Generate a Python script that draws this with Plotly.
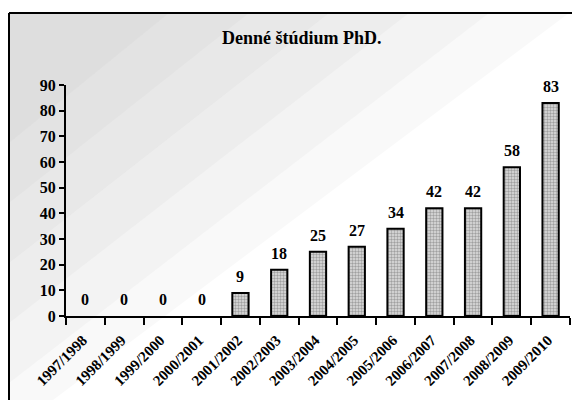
import plotly.graph_objects as go

categories = ["1997/1998", "1998/1999", "1999/2000", "2000/2001", "2001/2002", "2002/2003",
              "2003/2004", "2004/2005", "2005/2006", "2006/2007", "2007/2008", "2008/2009", "2009/2010"]
values = [0, 0, 0, 0, 9, 18, 25, 27, 34, 42, 42, 58, 83]
y_ticks = [0, 10, 20, 30, 40, 50, 60, 70, 80, 90]
title_text = "Denné štúdium PhD."

W, H = 572, 400
L, R, T, B = 66, 2, 85, 84
PW, PH = W - L - R, H - T - B

def px(x):
    return (x - L) / PW

def py(y):
    return (H - B - y) / PH

FONT = "Liberation Serif, Times New Roman, serif"

fig = go.Figure()
fig.add_trace(go.Bar(
    x=categories, y=values,
    width=0.42,
    cliponaxis=False,
    hoverinfo="skip",
    marker=dict(color="#cfcfcf",
                line=dict(color="black", width=[2 if v > 0 else 0 for v in values]),
                pattern=dict(shape=".", fgcolor="#606060", bgcolor="#e0e0e0", size=3, solidity=0.5)),
))

annotations = [dict(text=f"<b>{title_text}</b>", xref="paper", yref="paper",
                    x=px(302), y=py(38), xanchor="center", yanchor="middle", showarrow=False,
                    font=dict(family=FONT, size=18, color="black"))]
for c, v in zip(categories, values):
    annotations.append(dict(x=c, y=v, xref="x", yref="y", text=f"<b>{v}</b>", showarrow=False,
                            yanchor="bottom", yshift=6,
                            font=dict(family=FONT, size=16, color="black")))

shapes = []
# dithered grey diagonal background approximated with layered translucent triangles
layers = [(560, 420), (480, 370), (400, 310), (320, 250), (240, 190), (160, 130)]
for wt, hl in layers:
    shapes.append(dict(type="path", xref="paper", yref="paper", layer="below",
                       path=f"M {px(9)} {py(13)} L {px(9 + wt)} {py(13)} L {px(9)} {py(13 + hl)} Z",
                       fillcolor="#a0a0a0", opacity=0.06, line=dict(width=0)))
# frame lines
shapes.append(dict(type="line", xref="paper", yref="paper", x0=px(9), x1=px(572), y0=py(13), y1=py(13),
                   line=dict(color="black", width=2)))
shapes.append(dict(type="line", xref="paper", yref="paper", x0=px(9), x1=px(9), y0=py(13), y1=py(400),
                   line=dict(color="black", width=2)))

fig.update_layout(
    width=W, height=H,
    margin=dict(l=L, r=R, t=T, b=B, autoexpand=False),
    paper_bgcolor="white", plot_bgcolor="rgba(0,0,0,0)",
    showlegend=False,
    shapes=shapes,
    annotations=annotations,
    font=dict(family=FONT, color="black"),
)
fig.update_xaxes(
    type="category", showline=True, linecolor="black", linewidth=2,
    ticks="outside", ticklen=7, tickcolor="black", tickwidth=1.5,
    tickson="boundaries", tickangle=-45, automargin=False, ticklabelstandoff=5,
    tickvals=categories, ticktext=[f"<b>{c}</b>&nbsp;" for c in categories],
    tickfont=dict(family=FONT, size=15, color="black"),
    showgrid=False,
)
fig.update_yaxes(
    range=[0, 90], showline=True, linecolor="black", linewidth=2,
    ticks="outside", ticklen=5, tickcolor="black", tickwidth=1.5, automargin=False,
    tickvals=y_ticks, ticktext=[f"<b>{v}</b>" for v in y_ticks],
    tickfont=dict(family=FONT, size=16, color="black"),
    showgrid=False, zeroline=False,
)

fig.write_html("out.html", config={"displayModeBar": False},
               post_script="document.body.style.margin='0';document.body.style.overflow='hidden';")
